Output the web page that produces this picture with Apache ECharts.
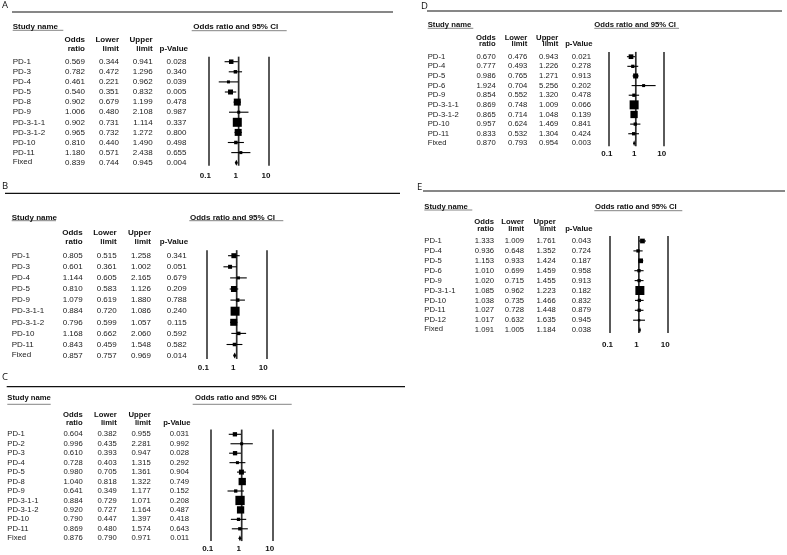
<!DOCTYPE html>
<html><head><meta charset="utf-8">
<script src="https://cdn.jsdelivr.net/npm/echarts@6/dist/echarts.min.js"></script>
<style>html,body{margin:0;padding:0;background:#fff}#c{width:787px;height:555px}</style>
</head><body><div id="c"></div>
<script>
// ---------- DATA ----------
const tickLabels = ['0.1', '1', '10'];
const colHeads = [['Odds', 'ratio'], ['Lower', 'limit'], ['Upper', 'limit'], ['', 'p-Value']];

const namesA = ['PD-1','PD-3','PD-4','PD-5','PD-8','PD-9','PD-3-1-1','PD-3-1-2','PD-10','PD-11','Fixed'];
const orA = [0.569,0.782,0.461,0.540,0.902,1.006,0.902,0.965,0.810,1.180,0.839];
const loA = [0.344,0.472,0.221,0.351,0.679,0.480,0.731,0.732,0.440,0.571,0.744];
const upA = [0.941,1.296,0.962,0.832,1.199,2.108,1.114,1.272,1.490,2.438,0.945];
const pA  = [0.028,0.340,0.039,0.005,0.478,0.987,0.337,0.800,0.498,0.655,0.004];
const boxA = [4.5,3.5,3,5,7,3,9,7,3.5,3];

const namesB = ['PD-1','PD-3','PD-4','PD-5','PD-9','PD-3-1-1','PD-3-1-2','PD-10','PD-11','Fixed'];
const orB = [0.805,0.601,1.144,0.810,1.079,0.884,0.796,1.168,0.843,0.857];
const loB = [0.515,0.361,0.605,0.583,0.619,0.720,0.599,0.662,0.459,0.757];
const upB = [1.258,1.002,2.165,1.126,1.880,1.086,1.057,2.060,1.548,0.969];
const pB  = [0.341,0.051,0.679,0.209,0.788,0.240,0.115,0.592,0.582,0.014];
const boxB = [5,4,3,6,3.5,9,7,3.5,3.5];

const namesC = ['PD-1','PD-2','PD-3','PD-4','PD-5','PD-8','PD-9','PD-3-1-1','PD-3-1-2','PD-10','PD-11','Fixed'];
const orC = [0.604,0.996,0.610,0.728,0.980,1.040,0.641,0.884,0.920,0.790,0.869,0.876];
const loC = [0.382,0.435,0.393,0.403,0.705,0.818,0.349,0.729,0.727,0.447,0.480,0.790];
const upC = [0.955,2.281,0.947,1.315,1.361,1.322,1.177,1.071,1.164,1.397,1.574,0.971];
const pC  = [0.031,0.992,0.028,0.292,0.904,0.749,0.152,0.208,0.487,0.418,0.643,0.011];
const boxC = [4.3,3,4.3,3,5,7.3,3.3,9.3,7.3,3.3,3.3];

const namesD = ['PD-1','PD-4','PD-5','PD-6','PD-9','PD-3-1-1','PD-3-1-2','PD-10','PD-11','Fixed'];
const orD = [0.670,0.777,0.986,1.924,0.854,0.869,0.865,0.957,0.833,0.870];
const loD = [0.476,0.493,0.765,0.704,0.552,0.748,0.714,0.624,0.532,0.793];
const upD = [0.943,1.226,1.271,5.256,1.320,1.009,1.048,1.469,1.304,0.954];
const pD  = [0.021,0.278,0.913,0.202,0.478,0.066,0.139,0.841,0.424,0.003];
const boxD = [4.7,3.3,5,3,3.3,9,7.3,3.3,3.3];

const namesE = ['PD-1','PD-4','PD-5','PD-6','PD-9','PD-3-1-1','PD-10','PD-11','PD-12','Fixed'];
const orE = [1.333,0.936,1.153,1.010,1.020,1.085,1.038,1.027,1.017,1.091];
const loE = [1.009,0.648,0.933,0.699,0.715,0.962,0.735,0.728,0.632,1.005];
const upE = [1.761,1.352,1.424,1.459,1.455,1.223,1.466,1.448,1.635,1.184];
const pE  = [0.043,0.724,0.187,0.958,0.913,0.182,0.832,0.879,0.945,0.038];
const boxE = [4.7,3.3,4.7,3.3,3.3,9,3.3,3.3,2.5];

// ---------- LAYOUT ----------
const layouts = {
  A: {letter:[2,5.5], rule:[12,393,12], axis:[208.3,269], y0:61.7, sp:10.1, fs:8, nameX:12.7,
      cols:[85,119,152.7,186.5], titleY:26.7, hdr:[40,49], su:[12.7,63.3,30.3], orX:193.3, orU:[191.7,286.7,30.7], tickY:176, shift:3},
  B: {letter:[2,186.5], rule:[5,400,193.3], axis:[206.7,266.7], y0:255.7, sp:11.1, fs:8, nameX:11.7,
      cols:[82.7,116.7,151,186.7], titleY:217.3, hdr:[232.3,241.7], su:[11.7,56,220.7], orX:190, orU:[189.3,283.3,220.7], tickY:367.7, shift:3.4},
  C: {letter:[2,377], rule:[6.7,405,386.7], axis:[210.7,272.7], y0:434.3, sp:9.45, fs:7.7, nameX:7.3,
      cols:[82.7,116.7,150.7,189], titleY:397.7, hdr:[414.5,422.7], su:[7.3,50.7,404.3], orX:195, orU:[192.7,291.7,404.3], tickY:548.3, shift:3},
  D: {letter:[421,6.3], rule:[427,782,11], axis:[608.3,663.3], y0:56.7, sp:9.63, fs:7.7, nameX:427.7,
      cols:[495.7,527.3,558.3,591], titleY:25, hdr:[37.7,43.9], su:[427.7,473.3,28.3], orX:594.3, orU:[594.3,679,28.3], tickY:153.3, shift:1.5},
  E: {letter:[417,187.3], rule:[423,785,191], axis:[610,667.7], y0:241, sp:9.9, fs:7.7, nameX:424.3,
      cols:[494,524,555.7,591], titleY:206.7, hdr:[221.7,229], su:[424.3,472.3,210], orX:595, orU:[594.3,682.3,210.7], tickY:345, shift:2.5}
};

const panels = [
  {key:'A', names:namesA, or:orA, lo:loA, up:upA, p:pA, box:boxA},
  {key:'B', names:namesB, or:orB, lo:loB, up:upB, p:pB, box:boxB},
  {key:'C', names:namesC, or:orC, lo:loC, up:upC, p:pC, box:boxC},
  {key:'D', names:namesD, or:orD, lo:loD, up:upD, p:pD, box:boxD},
  {key:'E', names:namesE, or:orE, lo:loE, up:upE, p:pE, box:boxE}
];

const FAM = '"Liberation Sans", Arial, sans-serif';
const TXT = '#1a1a1a';

function txt(x, y, s, font, align, fill) {
  return {type:'text', silent:true, z:10, style:{x:x, y:y, text:s, font:font, fill:fill || TXT,
    align:align, verticalAlign:'middle', textAlign:align, textVerticalAlign:'middle'}};
}
function hline(x1, x2, y, color, w) {
  return {type:'line', silent:true, shape:{x1:x1, y1:y, x2:x2, y2:y}, style:{stroke:color, lineWidth:w}};
}

const grids = [], xAxes = [], yAxes = [], series = [], graphics = [];

panels.forEach((P, k) => {
  const L = layouts[P.key];
  const n = P.names.length;
  const top = L.y0 - 0.5 * L.sp;
  const height = (n - 1 + 0.8) * L.sp;
  grids.push({left:L.axis[0], top:top, width:L.axis[1] - L.axis[0], height:height, containLabel:false, outerBoundsMode:'none'});
  xAxes.push({
    type:'log', logBase:10, min:0.1, max:10, gridIndex:k,
    axisLine:{show:false}, axisTick:{show:false},
    splitLine:{show:true, showMinLine:true, showMaxLine:true, lineStyle:{color:['#5a5a5a','rgba(0,0,0,0)','#5a5a5a'], width:2}},
    axisLabel:{
      formatter:(v) => v < 0.5 ? tickLabels[0] : (v < 5 ? tickLabels[1] : tickLabels[2]),
      fontSize:8, fontWeight:'bold', fontFamily:FAM, color:'#111',
      margin: L.tickY - (top + height) - 4, verticalAlign:'top',
      padding:[0, L.shift * 2, 0, 0]
    }
  });
  yAxes.push({type:'value', gridIndex:k, min:-0.5, max:n - 0.7, inverse:true, show:false});

  // marks: line of no effect, CI lines, boxes, summary diamond
  const markData = P.names.map((nm, i) => [i, P.or[i], P.lo[i], P.up[i], P.box[i] || 0, nm === 'Fixed' ? 1 : 0]);
  series.push({
    type:'custom', xAxisIndex:k, yAxisIndex:k, data:markData, encode:{x:[1,2,3], y:0}, clip:false, z:5,
    renderItem:(params, api) => {
      const i = api.value(0);
      const pO = api.coord([api.value(1), i]);
      const pL = api.coord([api.value(2), i]);
      const pU = api.coord([api.value(3), i]);
      const s = api.value(4);
      const kids = [];
      if (params.dataIndex === 0) {
        const c0 = api.coord([1, -0.5]), c1 = api.coord([1, n - 0.7]);
        kids.push({type:'line', z2:0, shape:{x1:c0[0], y1:c0[1], x2:c1[0], y2:c1[1]}, style:{stroke:'#2e2e2e', lineWidth:1.7}});
      }
      if (api.value(5) === 1) {
        const h = 3;
        kids.push({type:'polygon', z2:2, shape:{points:[[pL[0],pO[1]],[pO[0],pO[1]-h],[pU[0],pO[1]],[pO[0],pO[1]+h]]}, style:{fill:'#000'}});
      } else {
        kids.push({type:'line', z2:1, shape:{x1:pL[0], y1:pL[1], x2:pU[0], y2:pU[1]}, style:{stroke:'#000', lineWidth:1.1}});
        kids.push({type:'rect', z2:2, shape:{x:pO[0]-s/2, y:pO[1]-s/2, width:s, height:s}, style:{fill:'#000'}});
      }
      return {type:'group', children:kids};
    }
  });

  // table text rows
  const font = L.fs + 'px ' + FAM;
  series.push({
    type:'custom', xAxisIndex:k, yAxisIndex:k, data:P.names.map((nm, i) => [1, i]), encode:{x:0, y:1}, clip:false, z:6, silent:true,
    renderItem:(params, api) => {
      const i = params.dataIndex;
      const y = api.coord([1, i])[1];
      const isF = P.names[i] === 'Fixed';
      return {type:'group', children:[
        txt(L.nameX, y - (isF ? 0.8 : 0), P.names[i], font, 'left'),
        txt(L.cols[0], y, P.or[i].toFixed(3), font, 'right'),
        txt(L.cols[1], y, P.lo[i].toFixed(3), font, 'right'),
        txt(L.cols[2], y, P.up[i].toFixed(3), font, 'right'),
        txt(L.cols[3], y, P.p[i].toFixed(3), font, 'right')
      ]};
    }
  });

  // decorations
  const bold = 'bold ' + L.fs + 'px ' + FAM;
  graphics.push(txt(L.letter[0], L.letter[1], P.key, '9.5px "Open Sans", "Liberation Sans", sans-serif', 'left', '#111'));
  graphics.push(hline(L.rule[0], L.rule[1], L.rule[2], '#111', 1.2));
  graphics.push(txt(L.nameX, L.titleY, 'Study name', bold, 'left', '#111'));
  graphics.push(hline(L.su[0], L.su[1], L.su[2], '#777', 0.9));
  graphics.push(txt(L.orX, L.titleY, 'Odds ratio and 95% CI', bold, 'left', '#111'));
  graphics.push(hline(L.orU[0], L.orU[1], L.orU[2], '#777', 0.9));
  colHeads.forEach((hd, c) => {
    const xr = L.cols[c] + (c === 3 ? 1.5 : 0);
    if (hd[0]) graphics.push(txt(xr, L.hdr[0], hd[0], bold, 'right', '#111'));
    graphics.push(txt(xr, L.hdr[1], hd[1], bold, 'right', '#111'));
  });
});

const chart = echarts.init(document.getElementById('c'), null, {renderer:'canvas'});
chart.setOption({
  animation:false,
  backgroundColor:'#fff',
  grid:grids, xAxis:xAxes, yAxis:yAxes, series:series,
  graphic:graphics
});
</script>
</body></html>
